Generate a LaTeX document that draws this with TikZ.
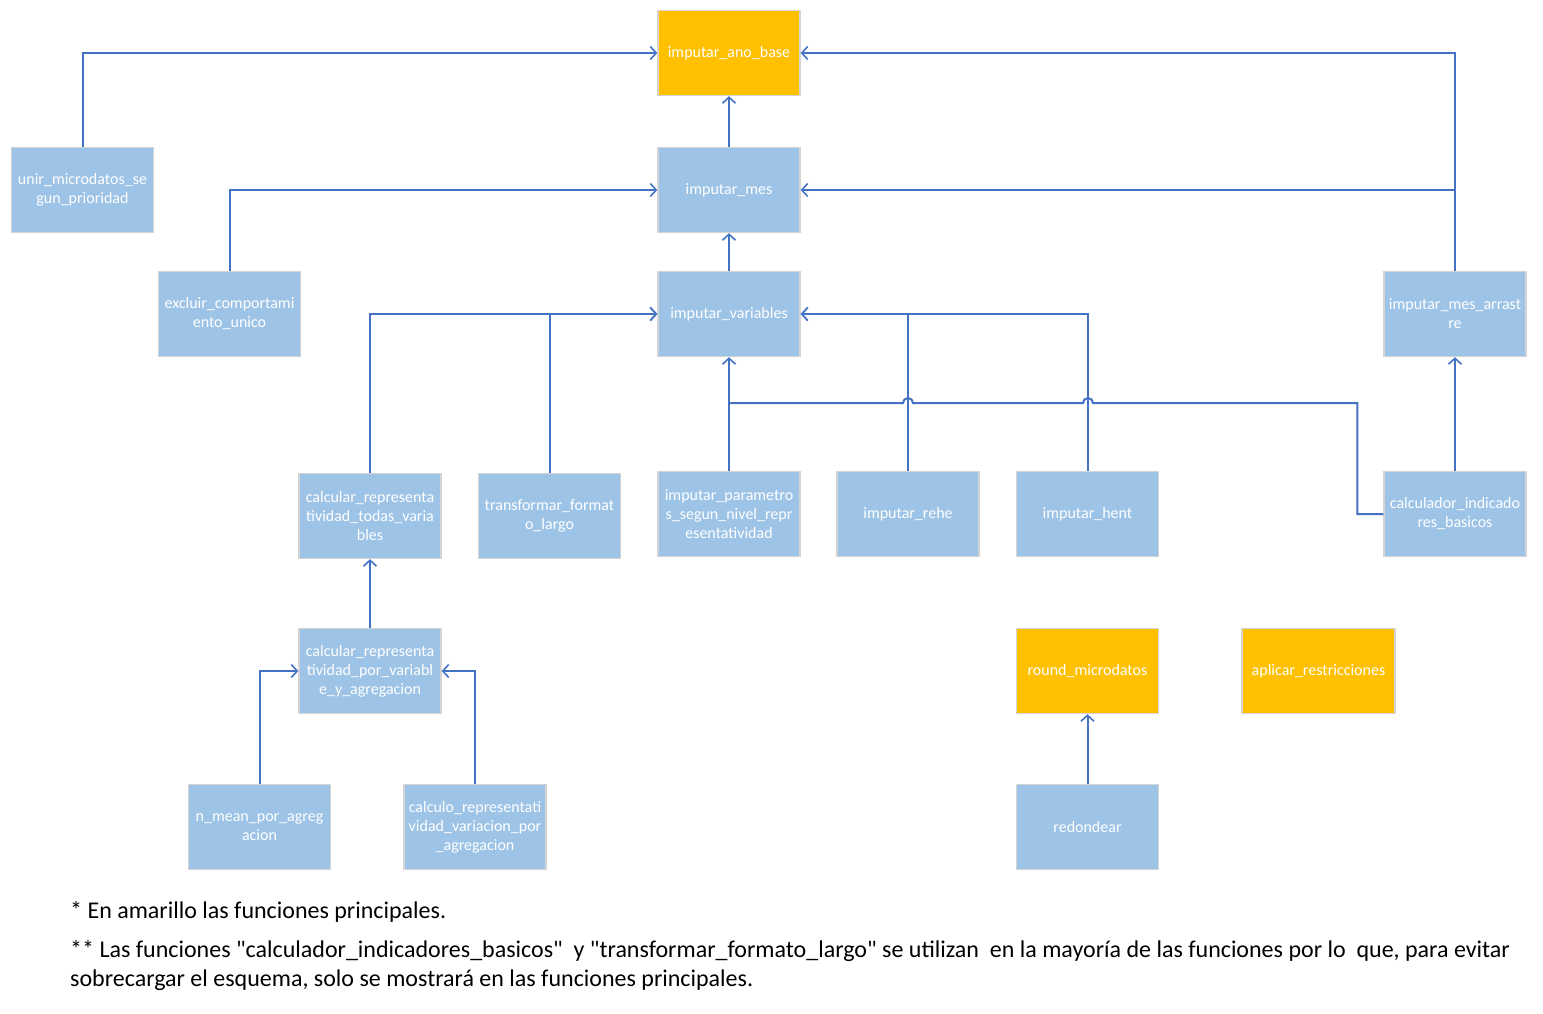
\documentclass[tikz,border=0pt]{standalone}
\usepackage{fontspec}
\setmainfont{Carlito}[Ligatures=TeXOff]
\usetikzlibrary{arrows.meta}
\definecolor{boxblue}{HTML}{9DC3E6}
\definecolor{boxgold}{HTML}{FFC000}
\definecolor{boxedge}{HTML}{D4D4D4}
\definecolor{linkblue}{HTML}{4472C4}
\begin{document}
\begin{tikzpicture}[x=1pt,y=-1pt,
  fn/.style={draw=boxedge,line width=1.3pt,fill=boxblue,text=white,
    minimum width=142pt,minimum height=85pt,inner sep=2pt,align=center,
    font=\fontsize{16}{19}\selectfont},
  mainfn/.style={fn,fill=boxgold},
  link/.style={draw=linkblue,line width=2pt},
  tip/.style={link,-{Straight Barb[length=6pt,width=13pt,line width=1.6pt]}},
  note/.style={anchor=base west,inner sep=0pt,font=\fontsize{24}{29}\selectfont}]
\useasboundingbox (0,0) rectangle (1543,1014);

% function boxes
\node[mainfn] (ano)  at (729,53)  {imputar\_ano\_base};
\node[fn] (unir)     at (82.5,190) {unir\_microdatos\_se\\gun\_prioridad};
\node[fn] (mes)      at (729,190) {imputar\_mes};
\node[fn] (excl)     at (229.5,314) {excluir\_comportami\\ento\_unico};
\node[fn] (var)      at (729,314) {imputar\_variables};
\node[fn] (arr)      at (1455,314) {imputar\_mes\_arrast\\re};
\node[fn] (todas)    at (370,516) {calcular\_representa\\tividad\_todas\_varia\\bles};
\node[fn] (trans)    at (549.5,516) {transformar\_format\\o\_largo};
\node[fn] (param)    at (729,514) {imputar\_parametro\\s\_segun\_nivel\_repr\\esentatividad};
\node[fn] (rehe)     at (908,514) {imputar\_rehe};
\node[fn] (hent)     at (1087.5,514) {imputar\_hent};
\node[fn] (calc)     at (1455,514) {calculador\_indicado\\res\_basicos};
\node[fn] (porvar)   at (370,671) {calcular\_representa\\tividad\_por\_variabl\\e\_y\_agregacion};
\node[mainfn] (round) at (1087.5,671) {round\_microdatos};
\node[mainfn,minimum width=153pt] (restr) at (1318.5,671) {aplicar\_restricciones};
\node[fn] (nmean)    at (259.5,827) {n\_mean\_por\_agreg\\acion};
\node[fn] (varagr)   at (475,827) {calculo\_representati\\vidad\_variacion\_por\\\_agregacion};
\node[fn] (redo)     at (1087.5,827) {redondear};

% junction points
\coordinate (j)  at (729,403);
\coordinate (jm) at (arr.north |- mes.east);

% connectors
\draw[tip] (unir.north) |- (ano.west);
\draw[tip] (arr.north) |- (ano.east);
\draw[tip] (jm) -- (mes.east);
\draw[tip] (mes.north) -- (ano.south);
\draw[tip] (excl.north) |- (mes.west);
\draw[tip] (var.north) -- (mes.south);
\draw[tip] (todas.north) |- (var.west);
\draw[tip] (trans.north) |- (var.west);
\draw[tip] (param.north) -- (var.south);
\draw[tip] (rehe.north) |- (var.east);
\draw[tip] (hent.north) |- (var.east);
\draw[link] (calc.west) -- ++(-26,0) |- (1093,403)
  arc[start angle=0,end angle=180,radius=5pt] -- (913,403)
  arc[start angle=0,end angle=180,radius=5pt] -- (j);
\draw[tip] (calc.north) -- (arr.south);
\draw[tip] (porvar.north) -- (todas.south);
\draw[tip] (nmean.north) |- (porvar.west);
\draw[tip] (varagr.north) |- (porvar.east);
\draw[tip] (redo.north) -- (round.south);

% notes
\node[note] (n1) at (70,918) {* En amarillo las funciones principales.};
\node[note] (n2) at (70,957) {** Las funciones "calculador\_indicadores\_basicos"\ \ y "transformar\_formato\_largo" se utilizan\ \ en la mayoría de las funciones por lo\ \ que, para evitar};
\node[note] (n3) at (70,986) {sobrecargar el esquema, solo se mostrará en las funciones principales.};
\end{tikzpicture}
\end{document}
